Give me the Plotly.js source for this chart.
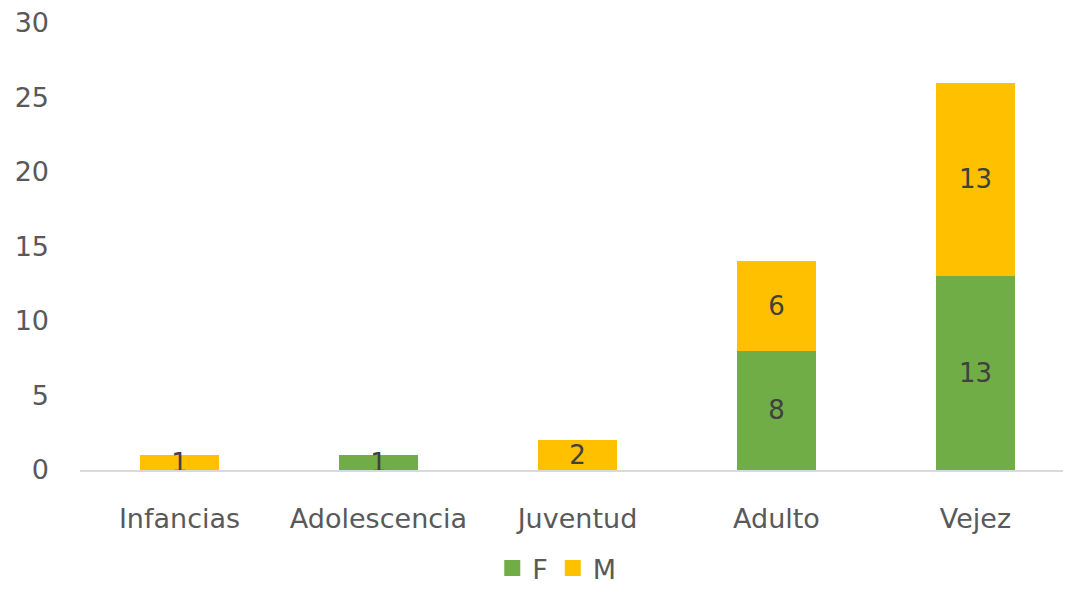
<!DOCTYPE html>
<html>
<head>
<meta charset="utf-8">
<script src="https://cdn.plot.ly/plotly-3.0.1.min.js"></script>
<style>html,body{margin:0;padding:0;background:#fff;}#chart{width:1067px;height:593px;}</style>
</head>
<body>
<div id="chart"></div>
<script>
const categories = ["Infancias", "Adolescencia", "Juventud", "Adulto", "Vejez"];
const femenino = [0, 1, 0, 8, 13];
const masculino = [1, 0, 2, 6, 13];
const yTicks = [0, 5, 10, 15, 20, 25, 30];
const seriesNames = ["F", "M"];
const seriesColors = ["#70AD47", "#FFC000"];

const fontFam = "'Comic Sans MS', 'DejaVu Sans', sans-serif";
const txt = v => v.map(x => x === 0 ? "" : String(x));

const common = {
  type: "bar",
  x: categories,
  width: 0.4,
  textposition: "inside",
  insidetextanchor: "middle",
  textangle: 0,
  constraintext: "none",
  cliponaxis: false,
  textfont: {family: fontFam, size: 26, color: "#404040"},
  hoverinfo: "none",
  showlegend: false
};

const data = [
  Object.assign({}, common, {name: seriesNames[0], y: femenino, text: txt(femenino), marker: {color: seriesColors[0]}}),
  Object.assign({}, common, {name: seriesNames[1], y: masculino, text: txt(masculino), marker: {color: seriesColors[1]}})
];
seriesNames.forEach((n, i) => data.push({
  type: "scatter", mode: "markers", name: n, x: [null], y: [null],
  marker: {symbol: "square", size: 18, color: seriesColors[i]}, hoverinfo: "none"
}));

const layout = {
  width: 1067, height: 593,
  barmode: "stack",
  paper_bgcolor: "#fff", plot_bgcolor: "#fff",
  margin: {l: 80, r: 4, t: 23, b: 123},
  font: {family: fontFam, color: "#595959", size: 26},
  xaxis: {
    range: [-0.5, 4.44],
    showgrid: false, zeroline: false,
    showline: true, linecolor: "#D9D9D9", linewidth: 2,
    ticks: "", ticklabelstandoff: 24,
    tickfont: {size: 27, color: "#595959"}
  },
  yaxis: {
    range: [0, 30],
    tickvals: yTicks,
    showgrid: false, zeroline: false, showline: false,
    ticks: "", ticklabelstandoff: 30,
    tickfont: {size: 27, color: "#595959"}
  },
  showlegend: true,
  legend: {
    orientation: "h", x: 0.485, xanchor: "center", xref: "paper",
    y: 578, yref: "container", yanchor: "middle",
    font: {size: 27, color: "#595959"},
    traceorder: "normal", itemwidth: 24
  }
};

Plotly.newPlot("chart", data, layout, {displayModeBar: false, staticPlot: true});
</script>
</body>
</html>
